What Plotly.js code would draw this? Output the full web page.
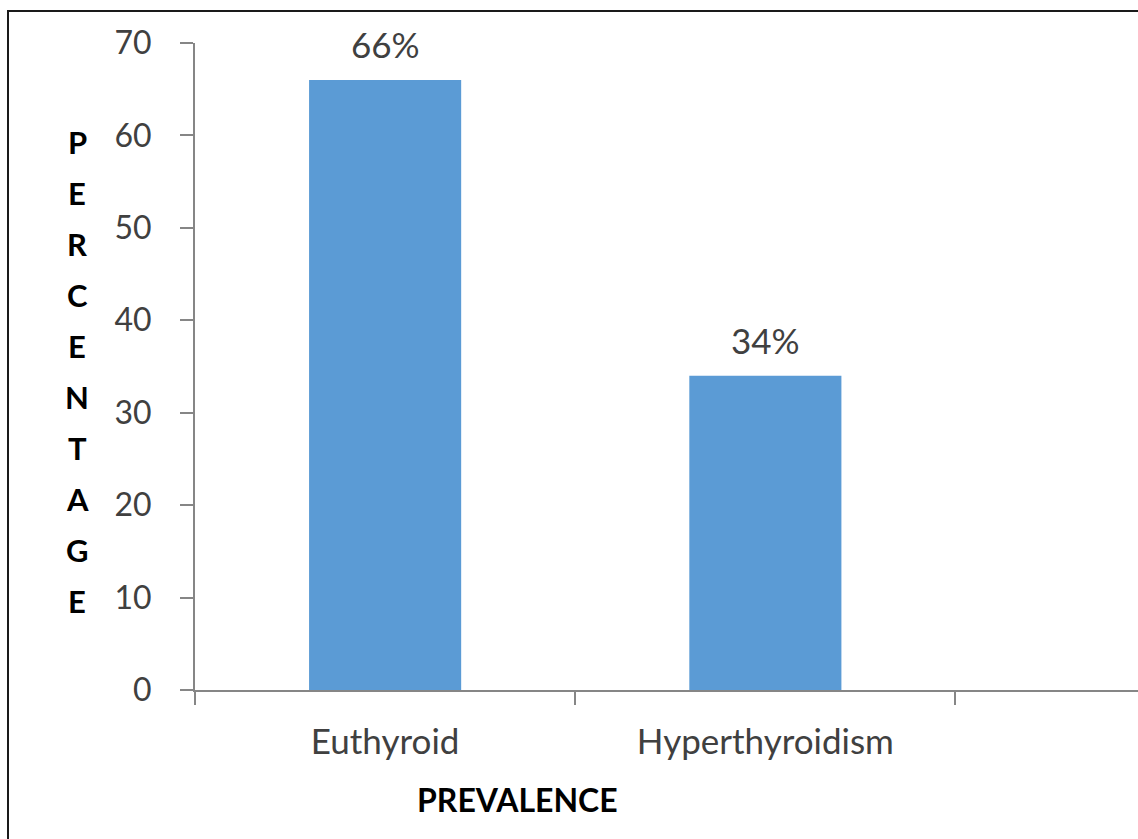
<!DOCTYPE html>
<html>
<head>
<meta charset="utf-8">
<script src="https://cdn.plot.ly/plotly-3.0.1.min.js"></script>
<style>
  html, body { margin: 0; padding: 0; background: #fff; }
  #wrap { position: relative; width: 1138px; height: 839px; }
  #chart { width: 1138px; height: 839px; }
  #frame { position: absolute; left: 7px; top: 10px; width: 1140px; height: 840px;
           border-left: 2px solid #1a1a1a; border-top: 2px solid #1a1a1a; pointer-events: none; }
</style>
</head>
<body>
<div id="wrap">
  <div id="chart"></div>
  <div id="frame"></div>
</div>
<script>
const categories = ["Euthyroid", "Hyperthyroidism"];
const values = [66, 34];
const labels = ["66%", "34%"];
const yTitleLetters = ["P","E","R","C","E","N","T","A","G","E"];
const xTitle = "PREVALENCE";

const FONT = "Lato, 'Open Sans', sans-serif";
const TXT = "#404040";

const trace = {
  type: "bar",
  x: categories,
  y: values,
  width: 0.4,
  marker: { color: "#5B9BD5", line: { width: 0 } },
  hoverinfo: "none"
};

const annotations = [];
categories.forEach((c, i) => {
  annotations.push({
    x: c, y: values[i], xref: "x", yref: "y",
    text: labels[i], showarrow: false,
    yanchor: "bottom", yshift: 13,
    font: { family: FONT, size: 35, color: TXT }
  });
});
const top0 = 0.847, step = (0.847 - 0.1376) / (yTitleLetters.length - 1);
yTitleLetters.forEach((ch, i) => {
  annotations.push({
    x: -0.125, y: top0 - i * step, xref: "paper", yref: "paper",
    text: "<b>" + ch + "</b>", showarrow: false,
    xanchor: "center", yanchor: "middle",
    font: { family: FONT, size: 31, color: "#000" }
  });
});
annotations.push({
  x: 0.3415, y: -0.17, xref: "paper", yref: "paper",
  text: "<b>" + xTitle + "</b>", showarrow: false,
  xanchor: "center", yanchor: "middle",
  font: { family: FONT, size: 32, color: "#000" }
});

const layout = {
  width: 1138, height: 839,
  margin: { l: 195, r: 0, t: 43, b: 149, pad: 0 },
  paper_bgcolor: "#fff", plot_bgcolor: "#fff",
  showlegend: false,
  xaxis: {
    type: "category",
    range: [-0.5, 1.98],
    showline: true, linecolor: "#868686", linewidth: 2,
    ticks: "outside", tickson: "boundaries", ticklen: 13, tickwidth: 2, tickcolor: "#868686",
    showgrid: false, zeroline: false,
    tickfont: { family: FONT, size: 35, color: TXT },
    ticklabelstandoff: 20
  },
  yaxis: {
    range: [0, 70],
    tickvals: [0, 10, 20, 30, 40, 50, 60, 70],
    showline: true, linecolor: "#868686", linewidth: 2,
    ticks: "outside", ticklen: 13, tickwidth: 2, tickcolor: "#868686",
    showgrid: false, zeroline: false,
    tickfont: { family: FONT, size: 32, color: TXT },
    ticklabelstandoff: 22
  },
  annotations: annotations
};

Plotly.newPlot("chart", [trace], layout, { staticPlot: true, displayModeBar: false });
</script>
</body>
</html>
